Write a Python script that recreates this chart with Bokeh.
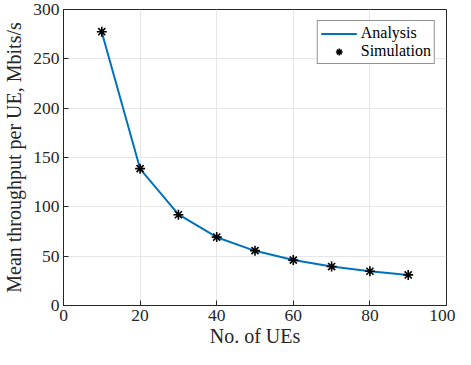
from bokeh.plotting import figure
from bokeh.models import Legend, LegendItem, Range1d, FixedTicker
from bokeh.embed import file_html
from bokeh.resources import INLINE

ues = [10, 20, 30, 40, 50, 60, 70, 80, 90]
analysis = [277, 138.5, 92.3, 69.2, 55.4, 46.2, 39.6, 34.6, 30.8]
simulation = [277.5, 138.7, 92.0, 69.3, 55.6, 46.0, 39.5, 34.7, 31.0]
x_ticks = [0, 20, 40, 60, 80, 100]
y_ticks = [0, 50, 100, 150, 200, 250, 300]

FONT = "Liberation Serif"

p = figure(width=455, height=349, output_backend="svg", toolbar_location=None,
           x_range=Range1d(0, 100), y_range=Range1d(0, 300),
           min_border_left=55, min_border_right=9, min_border_top=9, min_border_bottom=40)

l1 = p.line(ues, analysis, line_color="#0072BD", line_width=2)
c1 = p.scatter(ues, analysis, marker="circle", size=3, color="#0072BD")
s1 = p.scatter(ues, simulation, marker="asterisk", size=10, line_color="black", line_width=1.6)
leg_dot = p.scatter([], [], marker="dot", size=20, color="#0072BD", line_width=3)

for ax in (p.xaxis[0], p.yaxis[0]):
    ax.major_label_text_font = FONT
    ax.major_label_text_font_size = "17.5px"
    ax.major_label_text_color = "#262626"
    ax.axis_label_text_font = FONT
    ax.axis_label_text_font_size = "20px"
    ax.axis_label_text_font_style = "normal"
    ax.axis_label_text_color = "#262626"
    ax.axis_line_color = "#262626"
    ax.major_tick_line_color = "#262626"
    ax.major_tick_in = 5
    ax.major_tick_out = 0
    ax.minor_tick_line_color = None
    ax.major_label_standoff = 4

p.xaxis[0].ticker = FixedTicker(ticks=x_ticks)
p.yaxis[0].ticker = FixedTicker(ticks=y_ticks)
p.xaxis[0].axis_label = "No. of UEs"
p.yaxis[0].axis_label = "Mean throughput per UE, Mbits/s"
p.xaxis[0].axis_label_standoff = 1
p.yaxis[0].axis_label_standoff = 5

p.xgrid.grid_line_color = "#e6e6e6"
p.ygrid.grid_line_color = "#e6e6e6"
p.outline_line_color = "#262626"
p.outline_line_alpha = 1
p.background_fill_color = "white"

legend = Legend(items=[LegendItem(label="Analysis", renderers=[l1, leg_dot]),
                       LegendItem(label="Simulation", renderers=[s1])],
                location="top_right")
legend.label_text_font = FONT
legend.label_text_font_size = "16px"
legend.label_text_color = "black"
legend.border_line_color = "#262626"
legend.border_line_width = 1
legend.glyph_width = 36
legend.glyph_height = 17
legend.label_height = 17
legend.spacing = 0
legend.padding = 3
legend.margin = 11
legend.label_standoff = 4
p.add_layout(legend)

open("out.html", "w").write(file_html(p, INLINE))
